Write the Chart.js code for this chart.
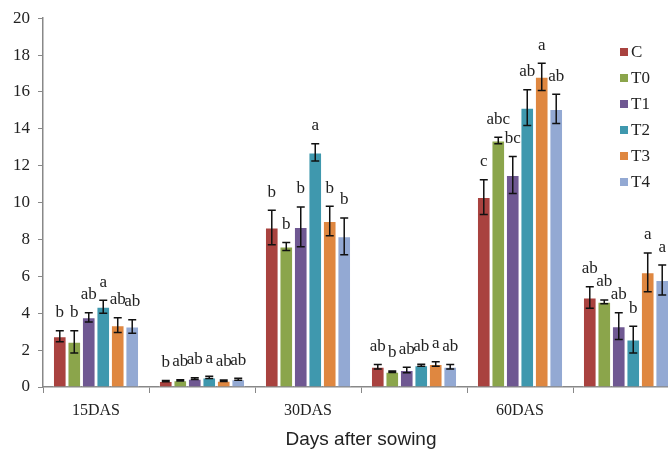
<!DOCTYPE html>
<html>
<head>
<meta charset="utf-8">
<script src="https://cdn.jsdelivr.net/npm/chart.js@4.4.1/dist/chart.umd.min.js"></script>
<style>
  html, body { margin: 0; padding: 0; overflow: hidden; background: #fff; }
  #wrap { position: relative; width: 684px; height: 455px; }
</style>
</head>
<body>
<div id="wrap"><canvas id="barChart"></canvas></div>
<script>
// Data
const categories = ['15DAS', '', '30DAS', '', '60DAS', ''];
const seriesNames = ['C', 'T0', 'T1', 'T2', 'T3', 'T4'];
const colors = ['#A9423F', '#8BA54B', '#6F5892', '#3F98AE', '#DF8740', '#93A9D3'];

const valC  = [2.75, 0.32, 8.65, 1.10, 10.30, 4.85];
const valT0 = [2.45, 0.36, 7.62, 0.83, 13.37, 4.62];
const valT1 = [3.78, 0.45, 8.68, 0.92, 11.50, 3.30];
const valT2 = [4.35, 0.52, 12.72, 1.18, 15.15, 2.57];
const valT3 = [3.35, 0.34, 9.00, 1.25, 16.82, 6.22];
const valT4 = [3.28, 0.42, 8.17, 1.10, 15.08, 5.80];

const errC  = [0.30, 0.03, 0.93, 0.12, 0.94, 0.58];
const errT0 = [0.60, 0.03, 0.22, 0.04, 0.18, 0.10];
const errT1 = [0.25, 0.05, 1.08, 0.15, 1.00, 0.72];
const errT2 = [0.35, 0.06, 0.47, 0.05, 0.97, 0.72];
const errT3 = [0.40, 0.04, 0.80, 0.12, 0.74, 1.05];
const errT4 = [0.37, 0.05, 1.00, 0.12, 0.79, 0.81];

const letC  = ['b', 'b', 'b', 'ab', 'c', 'ab'];
const letT0 = ['b', 'ab', 'b', 'b', 'abc', 'ab'];
const letT1 = ['ab', 'ab', 'b', 'ab', 'bc', 'ab'];
const letT2 = ['a', 'a', 'a', 'ab', 'ab', 'b'];
const letT3 = ['ab', 'ab', 'b', 'a', 'a', 'a'];
const letT4 = ['ab', 'ab', 'b', 'ab', 'ab', 'a'];

const yTicks = [0, 2, 4, 6, 8, 10, 12, 14, 16, 18, 20];

const values = [valC, valT0, valT1, valT2, valT3, valT4];
const errors = [errC, errT0, errT1, errT2, errT3, errT4];
const letters = [letC, letT0, letT1, letT2, letT3, letT4];

const serif = '"Liberation Serif", "DejaVu Serif", serif';

// Error bars + significance letters
const errorBarPlugin = {
    id: 'errorBars',
    afterDatasetsDraw(chart) {
        const ctx = chart.ctx;
        const y = chart.scales.y;
        ctx.save();
        ctx.strokeStyle = '#111';
        ctx.lineWidth = 1.5;
        ctx.fillStyle = '#222';
        ctx.font = '17px ' + serif;
        ctx.textAlign = 'center';
        ctx.textBaseline = 'middle';
        chart.data.datasets.forEach((ds, i) => {
            const meta = chart.getDatasetMeta(i);
            meta.data.forEach((bar, j) => {
                const v = ds.data[j];
                const e = errors[i][j];
                const top = y.getPixelForValue(v + e);
                const bot = y.getPixelForValue(v - e);
                const cap = 4;
                ctx.beginPath();
                ctx.moveTo(bar.x, top);
                ctx.lineTo(bar.x, bot);
                ctx.moveTo(bar.x - cap, top);
                ctx.lineTo(bar.x + cap, top);
                ctx.moveTo(bar.x - cap, bot);
                ctx.lineTo(bar.x + cap, bot);
                ctx.stroke();
                ctx.fillText(letters[i][j], bar.x, top - 18);
            });
        });
        ctx.restore();
    }
};

// Legend drawn at the right side of the plot
const sideLegendPlugin = {
    id: 'sideLegend',
    afterDraw(chart) {
        const ctx = chart.ctx;
        ctx.save();
        ctx.font = '17px ' + serif;
        ctx.textAlign = 'left';
        ctx.textBaseline = 'middle';
        chart.data.datasets.forEach((ds, i) => {
            const cy = 52 + i * 26;
            ctx.fillStyle = ds.backgroundColor;
            ctx.fillRect(620, cy - 4, 8, 8);
            ctx.fillStyle = '#222';
            ctx.fillText(ds.label, 631, cy + 1);
        });
        ctx.restore();
    }
};

const ctx = document.getElementById('barChart').getContext('2d');
new Chart(ctx, {
    type: 'bar',
    data: {
        labels: categories,
        datasets: seriesNames.map((name, i) => ({
            label: name,
            data: values[i],
            backgroundColor: colors[i],
            borderColor: 'rgba(255,255,255,0.7)',
            borderWidth: 1,
            barPercentage: 0.94,
            categoryPercentage: 0.82
        }))
    },
    options: {
        responsive: true,
        maintainAspectRatio: false,
        animation: false,
        layout: { padding: { top: 15, right: 5, left: 0, bottom: 0 } },
        scales: {
            x: {
                offset: true,
                grid: {
                    offset: true,
                    drawOnChartArea: false,
                    tickLength: 6,
                    color: '#888'
                },
                border: { color: '#888', width: 1.5 },
                ticks: {
                    padding: 8,
                    color: '#222',
                    font: { family: serif, size: 16 },
                    maxRotation: 0,
                    autoSkip: false
                },
                title: {
                    display: true,
                    text: 'Days after sowing',
                    color: '#222',
                    font: { family: '"Liberation Sans", Arial, sans-serif', size: 19 },
                    padding: { top: 0, bottom: 4 }
                },
                afterFit(scale) { scale.height = 68; }
            },
            y: {
                min: 0,
                max: 20,
                afterBuildTicks(scale) { scale.ticks = yTicks.map(v => ({ value: v })); },
                grid: {
                    drawOnChartArea: false,
                    tickLength: 5,
                    color: '#888'
                },
                border: { color: '#888', width: 1.5 },
                ticks: {
                    padding: 8,
                    color: '#222',
                    font: { family: serif, size: 17 }
                },
                afterFit(scale) { scale.width = 43; }
            }
        },
        plugins: {
            legend: { display: false },
            tooltip: { enabled: false }
        }
    },
    plugins: [errorBarPlugin, sideLegendPlugin]
});
</script>
</body>
</html>
